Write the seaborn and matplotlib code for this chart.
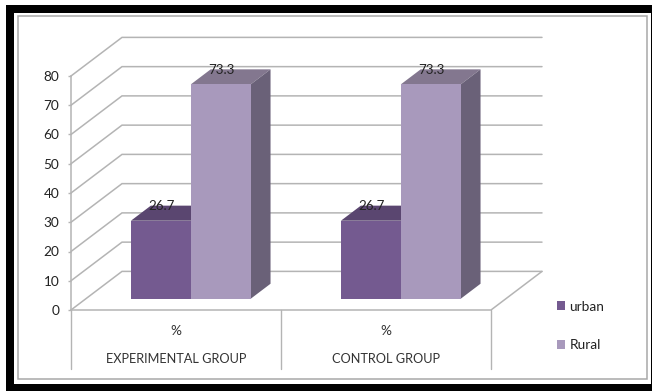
import matplotlib
matplotlib.use("Agg")
import matplotlib.pyplot as plt
from matplotlib.patches import Polygon, Rectangle
from matplotlib.transforms import Affine2D
import pandas as pd
import seaborn as sns

groups = ["EXPERIMENTAL GROUP", "CONTROL GROUP"]
subcategory = "%"
series_names = ["urban", "Rural"]
urban_values = [26.7, 26.7]
rural_values = [73.3, 73.3]
y_ticks = [0, 10, 20, 30, 40, 50, 60, 70, 80]

front_colors = {"urban": "#745A90", "Rural": "#A899BC"}
top_colors = {"urban": "#5A4670", "Rural": "#83778F"}
side_colors = {"urban": "#5A4670", "Rural": "#6A6178"}
GRID = "#B4B4B4"
W, H = 652, 392

sns.set_theme(style="white")
plt.rcParams["font.family"] = ["Lato", "DejaVu Sans"]

df = pd.DataFrame({
    "group": groups * 2,
    "series": [series_names[0]] * 2 + [series_names[1]] * 2,
    "value": urban_values + rural_values,
})

fig = plt.figure(figsize=(W / 100, H / 100), dpi=100, facecolor="white")


def frame_rect(x0, y0, x1, y1, z, **kw):
    fig.add_artist(Rectangle((x0 / W, 1 - y1 / H), (x1 - x0) / W, (y1 - y0) / H,
                             transform=fig.transFigure, zorder=z, **kw))


# Heavy outer border with a thin grey chart-area outline inside it
frame_rect(6, 4.5, 660, 391, -3, facecolor="black", edgecolor="none")
frame_rect(14, 12.5, 651, 383.7, -2, facecolor="white", edgecolor="none")
frame_rect(18.3, 16.3, 646.5, 379.3, -1, facecolor="white", edgecolor="#A8A8A8", linewidth=1.1)

# Axes span the front plane of the 3-D box
ax = fig.add_axes([71 / W, (H - 310) / H, 420 / W, 234 / H])
ax.patch.set_alpha(0)
sns.barplot(data=df, x="group", y="value", hue="series", hue_order=series_names,
            palette=front_colors, width=0.57, gap=0, dodge=True, saturation=1,
            linewidth=0, ax=ax)
x0, x1 = -0.5, 1.5
ax.set_xlim(x0, x1)
ax.set_ylim(0, 80)
ax.set_xlabel("")
ax.set_ylabel("")

# Oblique projection: full depth of the floor in data units
DX, DY = 51 / 210, 13.2
BAR_FRONT, BAR_DEPTH = 0.29, 0.39

# Walls and floor
for v in y_ticks:
    ax.plot([x0, x0 + DX, x1 + DX], [v, v + DY, v + DY], color=GRID, lw=1.1,
            clip_on=False, zorder=1, solid_joinstyle="miter")
ax.plot([x1 + DX, x1, x0], [DY, 0, 0], color=GRID, lw=1.1, clip_on=False, zorder=1)

# Shift the bars onto their plane inside the box and add their top and side faces
shift = Affine2D().translate(BAR_FRONT * DX, BAR_FRONT * DY) + ax.transData
ddx, ddy = BAR_DEPTH * DX, BAR_DEPTH * DY
for order, (container, name) in enumerate(zip(ax.containers, series_names)):
    base_z = 3 + order
    for bar in container:
        left, width, height = bar.get_x(), bar.get_width(), bar.get_height()
        right = left + width
        bar.set_transform(shift)
        bar.set_clip_on(False)
        bar.set_zorder(base_z + 0.2)
        ax.add_patch(Polygon([(left, height), (right, height),
                              (right + ddx, height + ddy), (left + ddx, height + ddy)],
                             closed=True, facecolor=top_colors[name], edgecolor="none",
                             transform=shift, clip_on=False, zorder=base_z))
        ax.add_patch(Polygon([(right, 0), (right + ddx, ddy),
                              (right + ddx, height + ddy), (right, height)],
                             closed=True, facecolor=side_colors[name], edgecolor="none",
                             transform=shift, clip_on=False, zorder=base_z))
        ax.text(left + width / 2 + 0.003, height + 4.9, f"{height:.1f}", transform=shift,
                ha="center", va="center", fontsize=9.6, color="#222222", zorder=8,
                clip_on=False)

# Axis styling
sns.despine(ax=ax, top=True, right=True, bottom=True, left=False)
ax.spines["left"].set_color(GRID)
ax.spines["left"].set_linewidth(1.1)
ax.set_yticks(y_ticks)
ax.tick_params(axis="y", left=True, length=2.4, width=1.0, color=GRID, pad=6,
               labelsize=9.8, labelcolor="#222222")
ax.set_xticks([0, 1])
ax.set_xticklabels([subcategory] * 2)
ax.tick_params(axis="x", bottom=False, length=0, pad=11, labelsize=9.8, labelcolor="#333333")

# Multi-level category axis below the floor
for x in [x0, 0.5, x1]:
    ax.plot([x, x], [0, -20.2], color=GRID, lw=1.0, clip_on=False, zorder=1)
for i, label in enumerate(groups):
    ax.text(i, -16.7, label, ha="center", va="center", fontsize=9.2, color="#333333",
            clip_on=False)

sns.move_legend(ax, "center left", bbox_to_anchor=(1.14, -0.068), title=None, frameon=False,
                handlelength=0.62, handleheight=0.62, handletextpad=0.32,
                labelspacing=1.95, fontsize=9.8, borderpad=0, labelcolor="#222222")

fig.savefig("out.png", dpi=100, facecolor="white")
